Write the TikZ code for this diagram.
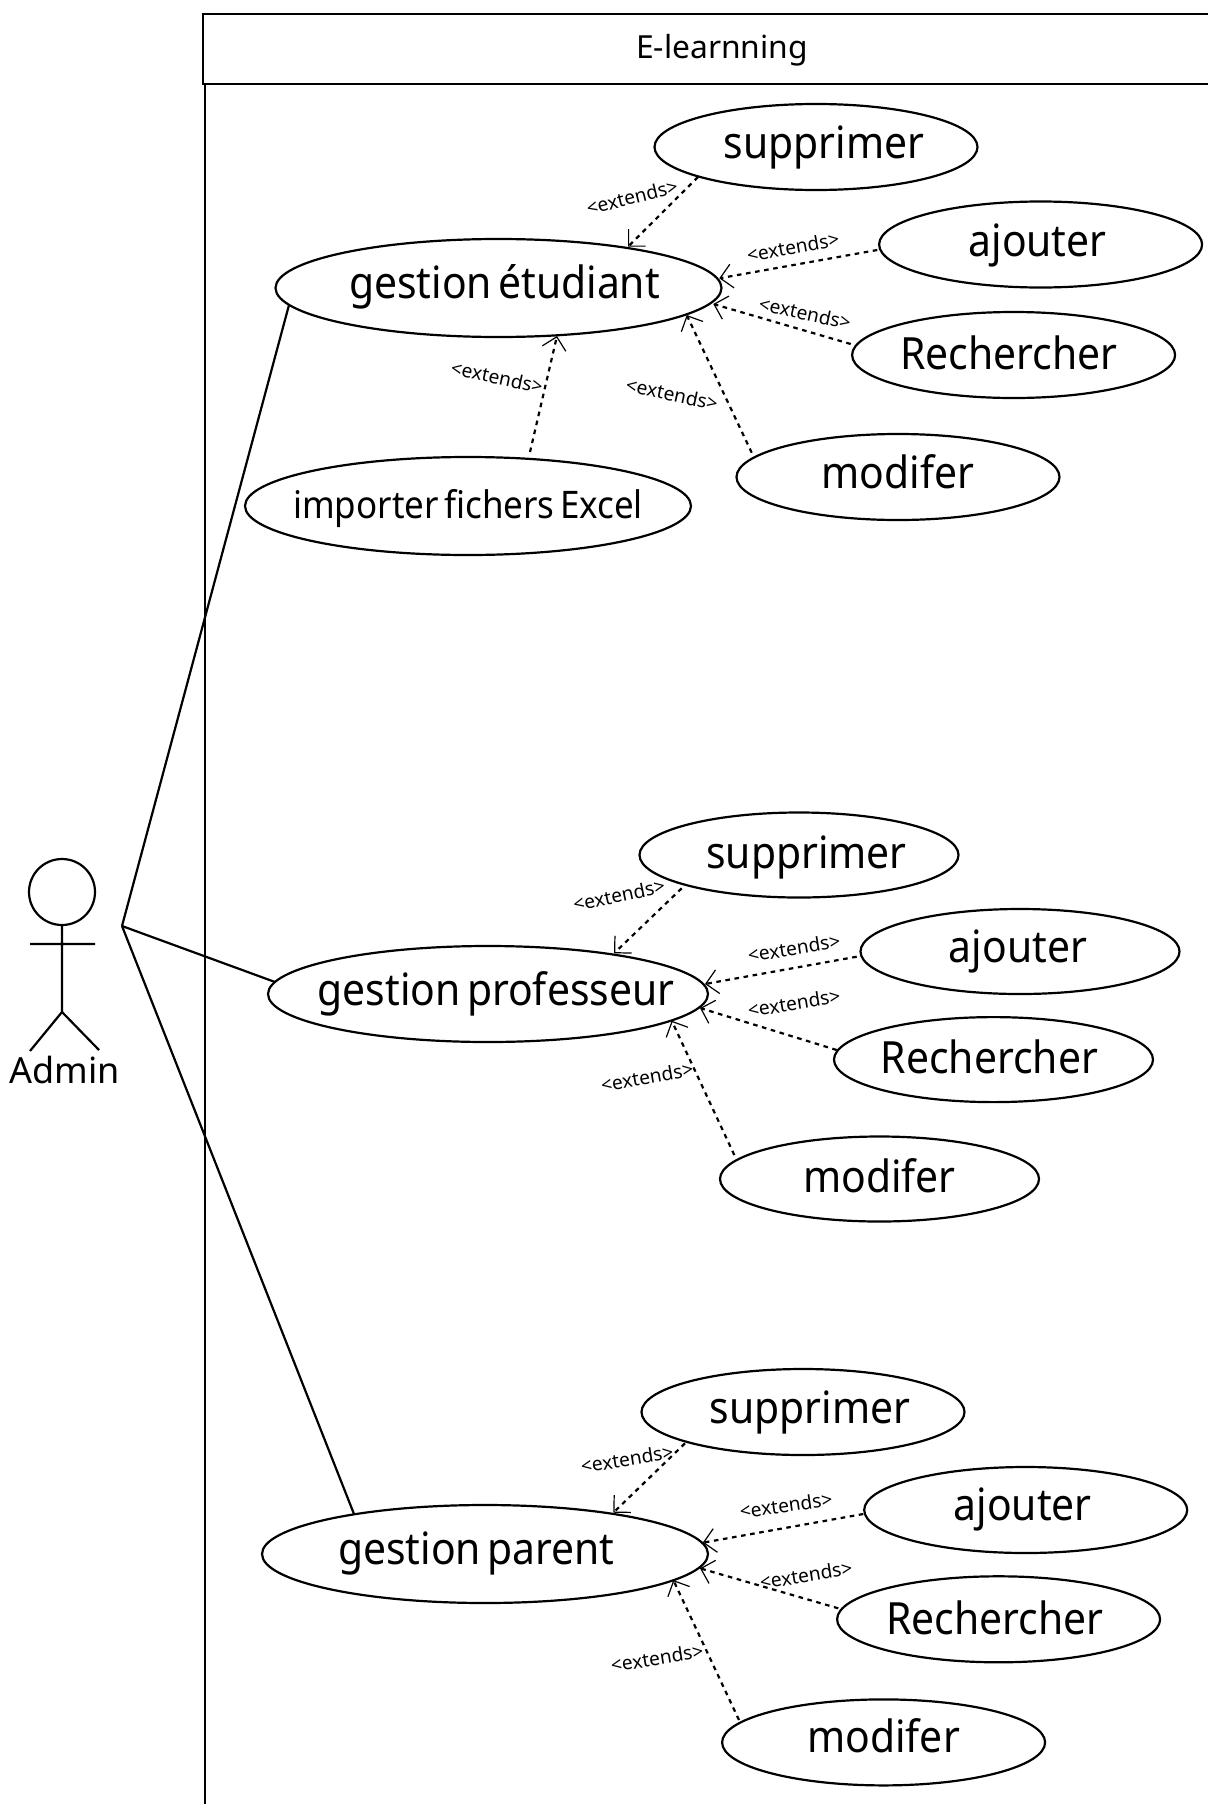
\documentclass[tikz,border=0pt]{standalone}
\usepackage{fontspec}
\setmainfont{Noto Sans}
\newfontfamily\narrowf[FakeStretch=0.92,WordSpace=0.6]{Noto Sans}
\usetikzlibrary{shapes.geometric,arrows.meta}
\newcommand{\ct}[3][0]{\makebox[0pt]{\hspace*{#2pt}\vphantom{Agp}\raisebox{#1pt}[0pt][0pt]{#3}}}
\tikzset{
  line/.style={line width=1.1pt,black},
  big/.style={ellipse,draw,line width=1.1pt,minimum width=446*.5pt,minimum height=98*.5pt,inner sep=0pt,font=\narrowf\fontsize{22.2}{26}\selectfont},
  small/.style={ellipse,draw,line width=1.1pt,minimum width=323*.5pt,minimum height=86*.5pt,inner sep=0pt,font=\narrowf\fontsize{22.2}{26}\selectfont},
  mid/.style={small,minimum width=319*.5pt,minimum height=85*.5pt},
  ext/.style={line width=1.1pt,dash pattern=on 2.3pt off 2.3pt,-{Straight Barb[length=6pt,width=12pt,line width=.6pt]}},
  lbl/.style={font=\fontsize{9.6}{11}\selectfont,inner sep=0pt},
}
\begin{document}
\begin{tikzpicture}[x=.5pt,y=-.5pt]
\useasboundingbox (0,0) rectangle (1208,1804);
% frame
\node[draw,line width=1.1pt,minimum width=1040*.5pt,minimum height=70*.5pt,anchor=north west,inner sep=0pt] (title) at (202,13) {};
\node[font=\fontsize{15.9}{18}\selectfont] (titletext) at (722,50) {E-learnning};
\coordinate (fbot) at (205,1810);
\coordinate (ftop) at (205,83);
\draw[line] (ftop) -- (fbot);
% actor
\node[circle,draw,line width=1.1pt,minimum size=66*.5pt,inner sep=0pt] (head) at (62,892) {};
\coordinate (crotch) at (62,1012);
\coordinate (armL) at (30,944);
\coordinate (armR) at (95,944);
\coordinate (legL) at (30,1051);
\coordinate (legR) at (99,1050);
\coordinate (hand) at (122,926);
\draw[line] (head.south) -- (crotch) (armL) -- (armR) (legL) -- (crotch) -- (legR);
\node[font=\fontsize{18}{22}\selectfont] (admin) at (65,1070) {Admin};
% set 1
\node[big] (ge) at (498.5,288) {\ct{6}{gestion étudiant}};
\node[small] (s1) at (816,147) {\ct[-.6]{8}{supprimer}};
\node[small] (a1) at (1040.6,244.5) {\ct[-.5]{-3}{ajouter}};
\node[small] (r1) at (1013.6,355) {\ct[-1.8]{-5}{Rechercher}};
\node[small] (m1) at (898,477) {\ct[-.5]{0}{modifer}};
\node[big,font=\narrowf\fontsize{19}{24}\selectfont] (imp) at (468,506) {\ct[-1.8]{0}{importer fichers Excel}};
\draw[ext] ([shift={(-118,30)}]s1.center) -- ([shift={(129.5,-41.3)}]ge.center);
\draw[ext] ([shift={(-163.3,5.5)}]a1.center) -- ([shift={(220.8,-9.7)}]ge.center);
\draw[ext] ([shift={(-162.9,-11)}]r1.center) -- ([shift={(214.8,16)}]ge.center);
\draw[ext] ([shift={(-146.3,-24.3)}]m1.center) -- ([shift={(188.2,27)}]ge.center);
\draw[ext] ([shift={(62,-54)}]imp.center) -- ([shift={(58.5,48)}]ge.center);
\node[lbl,rotate=14] (l1) at (632,197) {<extends>};
\node[lbl,rotate=10] (l2) at (793,247) {<extends>};
\node[lbl,rotate=-12] (l3) at (805,313) {<extends>};
\node[lbl,rotate=-12] (l4) at (672,394) {<extends>};
\node[lbl,rotate=-12] (l5) at (497,377) {<extends>};
% set 2
\node[big,minimum width=440*.5pt,minimum height=96*.5pt] (gp) at (488,994) {\ct[-.5]{8}{gestion professeur}};
\node[mid] (s2) at (799,855) {\ct[-1.2]{7.5}{supprimer}};
\node[mid] (a2) at (1020,951.5) {\ct{-2}{ajouter}};
\node[mid] (r2) at (993.5,1059.6) {\ct[-1.8]{-4}{Rechercher}};
\node[mid] (m2) at (879.5,1179) {\ct[-1.2]{0}{modifer}};
\draw[ext] ([shift={(-117.3,33.3)}]s2.center) -- ([shift={(126,-40.7)}]gp.center);
\draw[ext] ([shift={(-163.3,5.2)}]a2.center) -- ([shift={(217,-10)}]gp.center);
\draw[ext] ([shift={(-156.8,-9.6)}]r2.center) -- ([shift={(212,14)}]gp.center);
\draw[ext] ([shift={(-145.2,-24)}]m2.center) -- ([shift={(183.7,26.7)}]gp.center);
\node[lbl,rotate=12] (l6) at (619,895) {<extends>};
\node[lbl,rotate=9] (l7) at (794,948) {<extends>};
\node[lbl,rotate=9] (l8) at (794,1003) {<extends>};
\node[lbl,rotate=10] (l9) at (647,1077) {<extends>};
% set 3
\node[big] (gr) at (485,1554) {\ct{-8.6}{gestion parent}};
\node[small] (s3) at (803,1412) {\ct[-.6]{7}{supprimer}};
\node[small] (a3) at (1025.7,1510) {\ct{-3}{ajouter}};
\node[small] (r3) at (998.6,1619.3) {\ct[-2.2]{-4}{Rechercher}};
\node[small] (m3) at (883.6,1742.4) {\ct[.5]{0}{modifer}};
\draw[ext] ([shift={(-118,31.3)}]s3.center) -- ([shift={(128.3,-41.3)}]gr.center);
\draw[ext] ([shift={(-162.4,4)}]a3.center) -- ([shift={(217.7,-11.3)}]gr.center);
\draw[ext] ([shift={(-160.3,-11)}]r3.center) -- ([shift={(215,14.3)}]gr.center);
\draw[ext] ([shift={(-144.6,-22.4)}]m3.center) -- ([shift={(188.3,26)}]gr.center);
\node[lbl,rotate=9] (l10) at (627,1459) {<extends>};
\node[lbl,rotate=8] (l11) at (786,1505) {<extends>};
\node[lbl,rotate=9] (l12) at (806,1575) {<extends>};
\node[lbl,rotate=9] (l13) at (657,1658) {<extends>};
% associations
\draw[line] (hand) -- ([shift={(-209.5,17)}]ge.center);
\draw[line] (hand) -- ([shift={(-213,-12)}]gp.center);
\draw[line] (hand) -- ([shift={(-131,-40)}]gr.center);
\end{tikzpicture}
\end{document}
